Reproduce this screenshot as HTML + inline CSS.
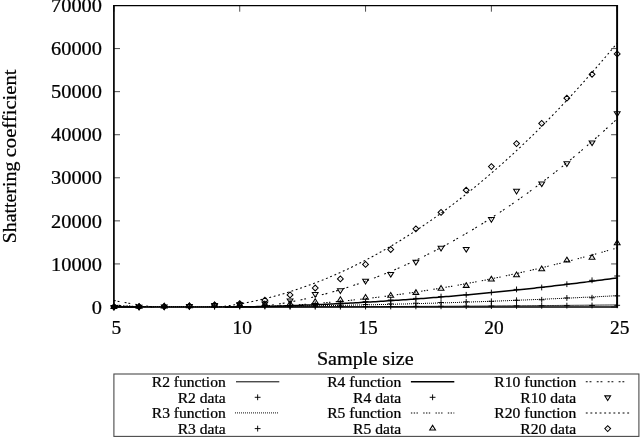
<!DOCTYPE html>
<html><head><meta charset="utf-8"><title>Shattering coefficient</title>
<style>
html,body{margin:0;padding:0;background:#fff;}
body{width:640px;height:438px;overflow:hidden;}
svg{display:block;will-change:transform;}
text{font-family:"Liberation Serif",serif;fill:#000;font-variant-ligatures:none;stroke:#000;stroke-width:0.25px;}
</style></head><body>
<svg width="640" height="438" viewBox="0 0 640 438">
<rect width="640" height="438" fill="#fff"/>
<path d="M113.90 306.94 L116.42 306.94 L118.93 306.94 L121.45 306.95 L123.97 306.95 L126.48 306.95 L129.00 306.96 L131.52 306.96 L134.03 306.97 L136.55 306.97 L139.06 306.97 L141.58 306.97 L144.10 306.98 L146.61 306.98 L149.13 306.98 L151.65 306.98 L154.16 306.99 L156.68 306.99 L159.20 306.99 L161.71 306.99 L164.23 306.99 L166.75 306.99 L169.26 307.00 L171.78 307.00 L174.30 307.00 L176.81 307.00 L179.33 307.00 L181.85 307.00 L184.36 307.00 L186.88 307.00 L189.40 307.00 L191.91 307.00 L194.43 307.00 L196.94 307.00 L199.46 307.00 L201.98 307.00 L204.49 307.00 L207.01 307.00 L209.53 307.00 L212.04 306.99 L214.56 306.99 L217.08 306.99 L219.59 306.99 L222.11 306.99 L224.63 306.99 L227.14 306.98 L229.66 306.98 L232.18 306.98 L234.69 306.98 L237.21 306.97 L239.72 306.97 L242.24 306.97 L244.76 306.97 L247.27 306.96 L249.79 306.96 L252.31 306.95 L254.82 306.95 L257.34 306.95 L259.86 306.94 L262.37 306.94 L264.89 306.94 L267.41 306.93 L269.92 306.93 L272.44 306.92 L274.96 306.92 L277.47 306.91 L279.99 306.91 L282.51 306.90 L285.02 306.90 L287.54 306.89 L290.06 306.88 L292.57 306.88 L295.09 306.87 L297.60 306.87 L300.12 306.86 L302.64 306.85 L305.15 306.85 L307.67 306.84 L310.19 306.83 L312.70 306.83 L315.22 306.82 L317.74 306.81 L320.25 306.81 L322.77 306.80 L325.29 306.79 L327.80 306.78 L330.32 306.77 L332.84 306.77 L335.35 306.76 L337.87 306.75 L340.38 306.74 L342.90 306.73 L345.42 306.72 L347.93 306.71 L350.45 306.71 L352.97 306.70 L355.48 306.69 L358.00 306.68 L360.52 306.67 L363.03 306.66 L365.55 306.65 L368.07 306.64 L370.58 306.63 L373.10 306.62 L375.62 306.61 L378.13 306.59 L380.65 306.58 L383.17 306.57 L385.68 306.56 L388.20 306.55 L390.72 306.54 L393.23 306.53 L395.75 306.52 L398.26 306.50 L400.78 306.49 L403.30 306.48 L405.81 306.47 L408.33 306.46 L410.85 306.44 L413.36 306.43 L415.88 306.42 L418.40 306.40 L420.91 306.39 L423.43 306.38 L425.95 306.36 L428.46 306.35 L430.98 306.34 L433.50 306.32 L436.01 306.31 L438.53 306.29 L441.04 306.28 L443.56 306.27 L446.08 306.25 L448.59 306.24 L451.11 306.22 L453.63 306.21 L456.14 306.19 L458.66 306.18 L461.18 306.16 L463.69 306.14 L466.21 306.13 L468.73 306.11 L471.24 306.10 L473.76 306.08 L476.28 306.06 L478.79 306.05 L481.31 306.03 L483.83 306.01 L486.34 306.00 L488.86 305.98 L491.38 305.96 L493.89 305.95 L496.41 305.93 L498.92 305.91 L501.44 305.89 L503.96 305.87 L506.47 305.86 L508.99 305.84 L511.51 305.82 L514.02 305.80 L516.54 305.78 L519.06 305.76 L521.57 305.75 L524.09 305.73 L526.61 305.71 L529.12 305.69 L531.64 305.67 L534.16 305.65 L536.67 305.63 L539.19 305.61 L541.71 305.59 L544.22 305.57 L546.74 305.55 L549.25 305.53 L551.77 305.51 L554.29 305.49 L556.80 305.47 L559.32 305.44 L561.84 305.42 L564.35 305.40 L566.87 305.38 L569.39 305.36 L571.90 305.34 L574.42 305.31 L576.94 305.29 L579.45 305.27 L581.97 305.25 L584.49 305.23 L587.00 305.20 L589.52 305.18 L592.03 305.16 L594.55 305.13 L597.07 305.11 L599.58 305.09 L602.10 305.06 L604.62 305.04 L607.13 305.02 L609.65 304.99 L612.17 304.97 L614.68 304.94 L617.20 304.92 " stroke="#000" stroke-width="0.8" fill="none"/>
<path d="M113.90 306.25 L116.42 306.27 L118.93 306.29 L121.45 306.32 L123.97 306.34 L126.48 306.36 L129.00 306.38 L131.52 306.40 L134.03 306.42 L136.55 306.44 L139.06 306.46 L141.58 306.48 L144.10 306.49 L146.61 306.51 L149.13 306.52 L151.65 306.54 L154.16 306.55 L156.68 306.56 L159.20 306.57 L161.71 306.58 L164.23 306.59 L166.75 306.60 L169.26 306.61 L171.78 306.62 L174.30 306.63 L176.81 306.63 L179.33 306.64 L181.85 306.64 L184.36 306.65 L186.88 306.65 L189.40 306.65 L191.91 306.65 L194.43 306.65 L196.94 306.65 L199.46 306.65 L201.98 306.65 L204.49 306.65 L207.01 306.65 L209.53 306.64 L212.04 306.64 L214.56 306.63 L217.08 306.63 L219.59 306.62 L222.11 306.61 L224.63 306.60 L227.14 306.59 L229.66 306.58 L232.18 306.57 L234.69 306.56 L237.21 306.55 L239.72 306.53 L242.24 306.52 L244.76 306.50 L247.27 306.49 L249.79 306.47 L252.31 306.45 L254.82 306.44 L257.34 306.42 L259.86 306.40 L262.37 306.38 L264.89 306.36 L267.41 306.33 L269.92 306.31 L272.44 306.29 L274.96 306.26 L277.47 306.24 L279.99 306.21 L282.51 306.19 L285.02 306.16 L287.54 306.13 L290.06 306.10 L292.57 306.07 L295.09 306.04 L297.60 306.01 L300.12 305.98 L302.64 305.94 L305.15 305.91 L307.67 305.88 L310.19 305.84 L312.70 305.80 L315.22 305.77 L317.74 305.73 L320.25 305.69 L322.77 305.65 L325.29 305.61 L327.80 305.57 L330.32 305.53 L332.84 305.49 L335.35 305.44 L337.87 305.40 L340.38 305.36 L342.90 305.31 L345.42 305.26 L347.93 305.22 L350.45 305.17 L352.97 305.12 L355.48 305.07 L358.00 305.02 L360.52 304.97 L363.03 304.92 L365.55 304.87 L368.07 304.81 L370.58 304.76 L373.10 304.70 L375.62 304.65 L378.13 304.59 L380.65 304.53 L383.17 304.48 L385.68 304.42 L388.20 304.36 L390.72 304.30 L393.23 304.24 L395.75 304.18 L398.26 304.11 L400.78 304.05 L403.30 303.99 L405.81 303.92 L408.33 303.85 L410.85 303.79 L413.36 303.72 L415.88 303.65 L418.40 303.58 L420.91 303.51 L423.43 303.44 L425.95 303.37 L428.46 303.30 L430.98 303.23 L433.50 303.15 L436.01 303.08 L438.53 303.00 L441.04 302.93 L443.56 302.85 L446.08 302.77 L448.59 302.70 L451.11 302.62 L453.63 302.54 L456.14 302.46 L458.66 302.38 L461.18 302.29 L463.69 302.21 L466.21 302.13 L468.73 302.04 L471.24 301.96 L473.76 301.87 L476.28 301.78 L478.79 301.70 L481.31 301.61 L483.83 301.52 L486.34 301.43 L488.86 301.34 L491.38 301.25 L493.89 301.15 L496.41 301.06 L498.92 300.97 L501.44 300.87 L503.96 300.78 L506.47 300.68 L508.99 300.58 L511.51 300.49 L514.02 300.39 L516.54 300.29 L519.06 300.19 L521.57 300.09 L524.09 299.98 L526.61 299.88 L529.12 299.78 L531.64 299.67 L534.16 299.57 L536.67 299.46 L539.19 299.36 L541.71 299.25 L544.22 299.14 L546.74 299.03 L549.25 298.92 L551.77 298.81 L554.29 298.70 L556.80 298.59 L559.32 298.48 L561.84 298.36 L564.35 298.25 L566.87 298.14 L569.39 298.02 L571.90 297.90 L574.42 297.79 L576.94 297.67 L579.45 297.55 L581.97 297.43 L584.49 297.31 L587.00 297.19 L589.52 297.07 L592.03 296.94 L594.55 296.82 L597.07 296.69 L599.58 296.57 L602.10 296.44 L604.62 296.32 L607.13 296.19 L609.65 296.06 L612.17 295.93 L614.68 295.80 L617.20 295.67 " stroke="#000" stroke-width="1.05" stroke-dasharray="1 1" stroke-dashoffset="0.9" fill="none"/>
<path d="M113.90 306.73 L116.42 306.78 L118.93 306.83 L121.45 306.88 L123.97 306.93 L126.48 306.97 L129.00 307.02 L131.52 307.06 L134.03 307.10 L136.55 307.14 L139.06 307.17 M224.63 307.19 L227.14 307.16 L229.66 307.12 L232.18 307.08 L234.69 307.04 L237.21 307.00 L239.72 306.96 L242.24 306.91 L244.76 306.86 L247.27 306.81 L249.79 306.76 L252.31 306.71 L254.82 306.65 L257.34 306.59 L259.86 306.53 L262.37 306.47 L264.89 306.41 L267.41 306.34 L269.92 306.27 L272.44 306.20 L274.96 306.13 L277.47 306.06 L279.99 305.98 L282.51 305.91 L285.02 305.83 L287.54 305.74 L290.06 305.66 L292.57 305.58 L295.09 305.49 L297.60 305.40 L300.12 305.31 L302.64 305.21 L305.15 305.12 L307.67 305.02 L310.19 304.92 L312.70 304.82 L315.22 304.72 L317.74 304.61 L320.25 304.50 L322.77 304.39 L325.29 304.28 L327.80 304.17 L330.32 304.05 L332.84 303.94 L335.35 303.82 L337.87 303.70 L340.38 303.57 L342.90 303.45 L345.42 303.32 L347.93 303.19 L350.45 303.06 L352.97 302.93 L355.48 302.79 L358.00 302.65 L360.52 302.51 L363.03 302.37 L365.55 302.23 L368.07 302.09 L370.58 301.94 L373.10 301.79 L375.62 301.64 L378.13 301.49 L380.65 301.33 L383.17 301.17 L385.68 301.01 L388.20 300.85 L390.72 300.69 L393.23 300.53 L395.75 300.36 L398.26 300.19 L400.78 300.02 L403.30 299.85 L405.81 299.67 L408.33 299.49 L410.85 299.32 L413.36 299.14 L415.88 298.95 L418.40 298.77 L420.91 298.58 L423.43 298.39 L425.95 298.20 L428.46 298.01 L430.98 297.81 L433.50 297.62 L436.01 297.42 L438.53 297.22 L441.04 297.02 L443.56 296.81 L446.08 296.60 L448.59 296.40 L451.11 296.19 L453.63 295.97 L456.14 295.76 L458.66 295.54 L461.18 295.32 L463.69 295.10 L466.21 294.88 L468.73 294.66 L471.24 294.43 L473.76 294.20 L476.28 293.97 L478.79 293.74 L481.31 293.51 L483.83 293.27 L486.34 293.03 L488.86 292.79 L491.38 292.55 L493.89 292.30 L496.41 292.06 L498.92 291.81 L501.44 291.56 L503.96 291.31 L506.47 291.05 L508.99 290.80 L511.51 290.54 L514.02 290.28 L516.54 290.02 L519.06 289.75 L521.57 289.49 L524.09 289.22 L526.61 288.95 L529.12 288.68 L531.64 288.40 L534.16 288.13 L536.67 287.85 L539.19 287.57 L541.71 287.29 L544.22 287.01 L546.74 286.72 L549.25 286.43 L551.77 286.14 L554.29 285.85 L556.80 285.56 L559.32 285.26 L561.84 284.96 L564.35 284.66 L566.87 284.36 L569.39 284.06 L571.90 283.75 L574.42 283.45 L576.94 283.14 L579.45 282.82 L581.97 282.51 L584.49 282.19 L587.00 281.88 L589.52 281.56 L592.03 281.24 L594.55 280.91 L597.07 280.59 L599.58 280.26 L602.10 279.93 L604.62 279.60 L607.13 279.27 L609.65 278.93 L612.17 278.59 L614.68 278.25 L617.20 277.91 " stroke="#000" stroke-width="1.5" fill="none"/>
<path d="M113.90 305.22 L116.42 305.37 L118.93 305.52 L121.45 305.66 L123.97 305.80 L126.48 305.94 L129.00 306.07 L131.52 306.20 L134.03 306.32 L136.55 306.44 L139.06 306.55 L141.58 306.66 L144.10 306.76 L146.61 306.87 L149.13 306.96 L151.65 307.05 L154.16 307.14 M249.79 307.17 L252.31 307.09 L254.82 307.00 L257.34 306.90 L259.86 306.80 L262.37 306.70 L264.89 306.59 L267.41 306.48 L269.92 306.36 L272.44 306.24 L274.96 306.12 L277.47 305.99 L279.99 305.86 L282.51 305.72 L285.02 305.57 L287.54 305.43 L290.06 305.27 L292.57 305.12 L295.09 304.96 L297.60 304.79 L300.12 304.62 L302.64 304.45 L305.15 304.27 L307.67 304.09 L310.19 303.90 L312.70 303.71 L315.22 303.51 L317.74 303.31 L320.25 303.11 L322.77 302.90 L325.29 302.68 L327.80 302.47 L330.32 302.24 L332.84 302.02 L335.35 301.79 L337.87 301.55 L340.38 301.31 L342.90 301.06 L345.42 300.82 L347.93 300.56 L350.45 300.30 L352.97 300.04 L355.48 299.77 L358.00 299.50 L360.52 299.23 L363.03 298.95 L365.55 298.66 L368.07 298.37 L370.58 298.08 L373.10 297.78 L375.62 297.48 L378.13 297.17 L380.65 296.86 L383.17 296.55 L385.68 296.23 L388.20 295.90 L390.72 295.57 L393.23 295.24 L395.75 294.90 L398.26 294.56 L400.78 294.22 L403.30 293.86 L405.81 293.51 L408.33 293.15 L410.85 292.79 L413.36 292.42 L415.88 292.04 L418.40 291.67 L420.91 291.28 L423.43 290.90 L425.95 290.51 L428.46 290.11 L430.98 289.71 L433.50 289.31 L436.01 288.90 L438.53 288.49 L441.04 288.07 L443.56 287.65 L446.08 287.22 L448.59 286.79 L451.11 286.36 L453.63 285.92 L456.14 285.47 L458.66 285.03 L461.18 284.57 L463.69 284.12 L466.21 283.65 L468.73 283.19 L471.24 282.72 L473.76 282.24 L476.28 281.76 L478.79 281.28 L481.31 280.79 L483.83 280.30 L486.34 279.80 L488.86 279.30 L491.38 278.80 L493.89 278.29 L496.41 277.77 L498.92 277.25 L501.44 276.73 L503.96 276.20 L506.47 275.67 L508.99 275.13 L511.51 274.59 L514.02 274.05 L516.54 273.50 L519.06 272.94 L521.57 272.38 L524.09 271.82 L526.61 271.25 L529.12 270.68 L531.64 270.10 L534.16 269.52 L536.67 268.94 L539.19 268.35 L541.71 267.75 L544.22 267.15 L546.74 266.55 L549.25 265.94 L551.77 265.33 L554.29 264.71 L556.80 264.09 L559.32 263.47 L561.84 262.84 L564.35 262.21 L566.87 261.57 L569.39 260.92 L571.90 260.28 L574.42 259.62 L576.94 258.97 L579.45 258.31 L581.97 257.64 L584.49 256.97 L587.00 256.30 L589.52 255.62 L592.03 254.94 L594.55 254.25 L597.07 253.56 L599.58 252.86 L602.10 252.16 L604.62 251.46 L607.13 250.75 L609.65 250.04 L612.17 249.32 L614.68 248.60 L617.20 247.87 " stroke="#000" stroke-width="1.05" stroke-dasharray="1.4 1.4 1.4 1.4 1.4 5.3" fill="none"/>
<path d="M113.90 300.40 L116.42 300.92 L118.93 301.42 L121.45 301.91 L123.97 302.38 L126.48 302.84 L129.00 303.29 L131.52 303.72 L134.03 304.14 L136.55 304.54 L139.06 304.93 L141.58 305.31 L144.10 305.67 L146.61 306.01 L149.13 306.34 L151.65 306.66 L154.16 306.96 M257.34 307.04 L259.86 306.74 L262.37 306.42 L264.89 306.10 L267.41 305.76 L269.92 305.40 L272.44 305.03 L274.96 304.64 L277.47 304.24 L279.99 303.83 L282.51 303.40 L285.02 302.96 L287.54 302.50 L290.06 302.03 L292.57 301.55 L295.09 301.05 L297.60 300.53 L300.12 300.00 L302.64 299.46 L305.15 298.90 L307.67 298.33 L310.19 297.75 L312.70 297.15 L315.22 296.53 L317.74 295.90 L320.25 295.26 L322.77 294.60 L325.29 293.93 L327.80 293.24 L330.32 292.54 L332.84 291.83 L335.35 291.10 L337.87 290.36 L340.38 289.60 L342.90 288.83 L345.42 288.04 L347.93 287.24 L350.45 286.43 L352.97 285.60 L355.48 284.75 L358.00 283.89 L360.52 283.02 L363.03 282.14 L365.55 281.23 L368.07 280.32 L370.58 279.39 L373.10 278.45 L375.62 277.49 L378.13 276.51 L380.65 275.53 L383.17 274.53 L385.68 273.51 L388.20 272.48 L390.72 271.44 L393.23 270.38 L395.75 269.30 L398.26 268.22 L400.78 267.12 L403.30 266.00 L405.81 264.87 L408.33 263.72 L410.85 262.57 L413.36 261.39 L415.88 260.20 L418.40 259.00 L420.91 257.79 L423.43 256.56 L425.95 255.31 L428.46 254.05 L430.98 252.78 L433.50 251.49 L436.01 250.19 L438.53 248.87 L441.04 247.54 L443.56 246.19 L446.08 244.83 L448.59 243.46 L451.11 242.07 L453.63 240.67 L456.14 239.25 L458.66 237.82 L461.18 236.38 L463.69 234.92 L466.21 233.44 L468.73 231.95 L471.24 230.45 L473.76 228.93 L476.28 227.40 L478.79 225.86 L481.31 224.30 L483.83 222.72 L486.34 221.13 L488.86 219.53 L491.38 217.91 L493.89 216.28 L496.41 214.63 L498.92 212.97 L501.44 211.30 L503.96 209.61 L506.47 207.91 L508.99 206.19 L511.51 204.46 L514.02 202.71 L516.54 200.95 L519.06 199.17 L521.57 197.38 L524.09 195.58 L526.61 193.76 L529.12 191.93 L531.64 190.08 L534.16 188.22 L536.67 186.34 L539.19 184.45 L541.71 182.55 L544.22 180.63 L546.74 178.70 L549.25 176.75 L551.77 174.79 L554.29 172.81 L556.80 170.82 L559.32 168.82 L561.84 166.80 L564.35 164.77 L566.87 162.72 L569.39 160.66 L571.90 158.58 L574.42 156.49 L576.94 154.39 L579.45 152.27 L581.97 150.14 L584.49 147.99 L587.00 145.83 L589.52 143.65 L592.03 141.46 L594.55 139.25 L597.07 137.03 L599.58 134.80 L602.10 132.55 L604.62 130.29 L607.13 128.01 L609.65 125.72 L612.17 123.42 L614.68 121.10 L617.20 118.76 " stroke="#000" stroke-width="1.05" stroke-dasharray="1.9 1.85 1.9 5.3" fill="none"/>
<path d="M113.90 304.57 L116.42 304.98 L118.93 305.37 L121.45 305.75 L123.97 306.11 L126.48 306.45 L129.00 306.78 L131.52 307.09 M219.59 306.98 L222.11 306.67 L224.63 306.34 L227.14 305.99 L229.66 305.62 L232.18 305.24 L234.69 304.84 L237.21 304.42 L239.72 303.98 L242.24 303.53 L244.76 303.06 L247.27 302.58 L249.79 302.07 L252.31 301.55 L254.82 301.01 L257.34 300.46 L259.86 299.88 L262.37 299.29 L264.89 298.68 L267.41 298.06 L269.92 297.42 L272.44 296.76 L274.96 296.08 L277.47 295.39 L279.99 294.67 L282.51 293.95 L285.02 293.20 L287.54 292.44 L290.06 291.66 L292.57 290.86 L295.09 290.04 L297.60 289.21 L300.12 288.36 L302.64 287.49 L305.15 286.61 L307.67 285.71 L310.19 284.79 L312.70 283.85 L315.22 282.90 L317.74 281.93 L320.25 280.94 L322.77 279.94 L325.29 278.91 L327.80 277.87 L330.32 276.82 L332.84 275.74 L335.35 274.65 L337.87 273.54 L340.38 272.42 L342.90 271.27 L345.42 270.11 L347.93 268.93 L350.45 267.74 L352.97 266.53 L355.48 265.30 L358.00 264.05 L360.52 262.78 L363.03 261.50 L365.55 260.20 L368.07 258.89 L370.58 257.55 L373.10 256.20 L375.62 254.83 L378.13 253.45 L380.65 252.05 L383.17 250.63 L385.68 249.19 L388.20 247.73 L390.72 246.26 L393.23 244.77 L395.75 243.27 L398.26 241.74 L400.78 240.20 L403.30 238.64 L405.81 237.07 L408.33 235.48 L410.85 233.87 L413.36 232.24 L415.88 230.59 L418.40 228.93 L420.91 227.25 L423.43 225.56 L425.95 223.84 L428.46 222.11 L430.98 220.36 L433.50 218.60 L436.01 216.82 L438.53 215.02 L441.04 213.20 L443.56 211.36 L446.08 209.51 L448.59 207.64 L451.11 205.76 L453.63 203.85 L456.14 201.93 L458.66 199.99 L461.18 198.04 L463.69 196.06 L466.21 194.07 L468.73 192.07 L471.24 190.04 L473.76 188.00 L476.28 185.94 L478.79 183.86 L481.31 181.77 L483.83 179.66 L486.34 177.53 L488.86 175.38 L491.38 173.22 L493.89 171.04 L496.41 168.84 L498.92 166.63 L501.44 164.40 L503.96 162.15 L506.47 159.88 L508.99 157.60 L511.51 155.30 L514.02 152.98 L516.54 150.64 L519.06 148.29 L521.57 145.92 L524.09 143.53 L526.61 141.13 L529.12 138.70 L531.64 136.26 L534.16 133.81 L536.67 131.33 L539.19 128.84 L541.71 126.33 L544.22 123.81 L546.74 121.26 L549.25 118.70 L551.77 116.13 L554.29 113.53 L556.80 110.92 L559.32 108.29 L561.84 105.64 L564.35 102.98 L566.87 100.30 L569.39 97.60 L571.90 94.88 L574.42 92.15 L576.94 89.40 L579.45 86.63 L581.97 83.85 L584.49 81.04 L587.00 78.22 L589.52 75.39 L592.03 72.53 L594.55 69.66 L597.07 66.77 L599.58 63.87 L602.10 60.94 L604.62 58.00 L607.13 55.05 L609.65 52.07 L612.17 49.08 L614.68 46.07 L617.20 43.04 " stroke="#000" stroke-width="1.05" stroke-dasharray="1.9 2.7" fill="none"/>
<path d="M111.00 306.97H116.80M113.90 304.07V309.87" stroke="#000" stroke-width="0.95" fill="none"/>
<path d="M111.00 306.95H116.80M113.90 304.05V309.85" stroke="#000" stroke-width="0.95" fill="none"/>
<path d="M111.00 306.92H116.80M113.90 304.02V309.82" stroke="#000" stroke-width="0.95" fill="none"/>
<path d="M113.90 303.74L116.80 308.44L111.00 308.44Z" stroke="#000" stroke-width="1.05" fill="none"/><circle cx="113.90" cy="306.99" r="0.32" fill="#222"/>
<path d="M113.90 310.11L116.80 305.41L111.00 305.41Z" stroke="#000" stroke-width="1.05" fill="none"/><circle cx="113.90" cy="306.86" r="0.32" fill="#222"/>
<path d="M111.00 306.86L113.90 303.96L116.80 306.86L113.90 309.76Z" stroke="#000" stroke-width="1.05" fill="none"/><circle cx="113.90" cy="306.86" r="0.32" fill="#222"/>
<path d="M136.16 306.94H141.97M139.06 304.04V309.84" stroke="#000" stroke-width="0.95" fill="none"/>
<path d="M136.16 306.90H141.97M139.06 304.00V309.80" stroke="#000" stroke-width="0.95" fill="none"/>
<path d="M136.16 306.84H141.97M139.06 303.94V309.74" stroke="#000" stroke-width="0.95" fill="none"/>
<path d="M139.06 303.64L141.97 308.34L136.16 308.34Z" stroke="#000" stroke-width="1.05" fill="none"/><circle cx="139.06" cy="306.89" r="0.32" fill="#222"/>
<path d="M139.06 309.98L141.97 305.28L136.16 305.28Z" stroke="#000" stroke-width="1.05" fill="none"/><circle cx="139.06" cy="306.73" r="0.32" fill="#222"/>
<path d="M136.16 306.73L139.06 303.83L141.97 306.73L139.06 309.63Z" stroke="#000" stroke-width="1.05" fill="none"/><circle cx="139.06" cy="306.73" r="0.32" fill="#222"/>
<path d="M161.33 306.85H167.13M164.23 303.95V309.75" stroke="#000" stroke-width="0.95" fill="none"/>
<path d="M161.33 306.70H167.13M164.23 303.80V309.60" stroke="#000" stroke-width="0.95" fill="none"/>
<path d="M161.33 306.58H167.13M164.23 303.68V309.48" stroke="#000" stroke-width="0.95" fill="none"/>
<path d="M164.23 303.36L167.13 308.06L161.33 308.06Z" stroke="#000" stroke-width="1.05" fill="none"/><circle cx="164.23" cy="306.61" r="0.32" fill="#222"/>
<path d="M164.23 309.70L167.13 305.00L161.33 305.00Z" stroke="#000" stroke-width="1.05" fill="none"/><circle cx="164.23" cy="306.45" r="0.32" fill="#222"/>
<path d="M161.33 306.45L164.23 303.55L167.13 306.45L164.23 309.35Z" stroke="#000" stroke-width="1.05" fill="none"/><circle cx="164.23" cy="306.45" r="0.32" fill="#222"/>
<path d="M186.50 306.80H192.30M189.40 303.90V309.70" stroke="#000" stroke-width="0.95" fill="none"/>
<path d="M186.50 306.55H192.30M189.40 303.65V309.45" stroke="#000" stroke-width="0.95" fill="none"/>
<path d="M186.50 306.30H192.30M189.40 303.40V309.20" stroke="#000" stroke-width="0.95" fill="none"/>
<path d="M189.40 302.96L192.30 307.66L186.50 307.66Z" stroke="#000" stroke-width="1.05" fill="none"/><circle cx="189.40" cy="306.21" r="0.32" fill="#222"/>
<path d="M189.40 309.20L192.30 304.50L186.50 304.50Z" stroke="#000" stroke-width="1.05" fill="none"/><circle cx="189.40" cy="305.95" r="0.32" fill="#222"/>
<path d="M186.50 305.90L189.40 303.00L192.30 305.90L189.40 308.80Z" stroke="#000" stroke-width="1.05" fill="none"/><circle cx="189.40" cy="305.90" r="0.32" fill="#222"/>
<path d="M211.66 306.70H217.46M214.56 303.80V309.60" stroke="#000" stroke-width="0.95" fill="none"/>
<path d="M211.66 306.30H217.46M214.56 303.40V309.20" stroke="#000" stroke-width="0.95" fill="none"/>
<path d="M211.66 305.80H217.46M214.56 302.90V308.70" stroke="#000" stroke-width="0.95" fill="none"/>
<path d="M214.56 302.26L217.46 306.96L211.66 306.96Z" stroke="#000" stroke-width="1.05" fill="none"/><circle cx="214.56" cy="305.51" r="0.32" fill="#222"/>
<path d="M214.56 308.25L217.46 303.55L211.66 303.55Z" stroke="#000" stroke-width="1.05" fill="none"/><circle cx="214.56" cy="305.00" r="0.32" fill="#222"/>
<path d="M211.66 304.85L214.56 301.95L217.46 304.85L214.56 307.75Z" stroke="#000" stroke-width="1.05" fill="none"/><circle cx="214.56" cy="304.85" r="0.32" fill="#222"/>
<path d="M236.82 306.60H242.62M239.72 303.70V309.50" stroke="#000" stroke-width="0.95" fill="none"/>
<path d="M236.82 306.10H242.62M239.72 303.20V309.00" stroke="#000" stroke-width="0.95" fill="none"/>
<path d="M236.82 305.50H242.62M239.72 302.60V308.40" stroke="#000" stroke-width="0.95" fill="none"/>
<path d="M239.72 301.86L242.62 306.56L236.82 306.56Z" stroke="#000" stroke-width="1.05" fill="none"/><circle cx="239.72" cy="305.11" r="0.32" fill="#222"/>
<path d="M239.72 307.55L242.62 302.85L236.82 302.85Z" stroke="#000" stroke-width="1.05" fill="none"/><circle cx="239.72" cy="304.30" r="0.32" fill="#222"/>
<path d="M236.82 303.60L239.72 300.70L242.62 303.60L239.72 306.50Z" stroke="#000" stroke-width="1.05" fill="none"/><circle cx="239.72" cy="303.60" r="0.32" fill="#222"/>
<path d="M261.99 306.55H267.79M264.89 303.65V309.45" stroke="#000" stroke-width="0.95" fill="none"/>
<path d="M261.99 305.95H267.79M264.89 303.05V308.85" stroke="#000" stroke-width="0.95" fill="none"/>
<path d="M261.99 305.20H267.79M264.89 302.30V308.10" stroke="#000" stroke-width="0.95" fill="none"/>
<path d="M264.89 301.26L267.79 305.96L261.99 305.96Z" stroke="#000" stroke-width="1.05" fill="none"/><circle cx="264.89" cy="304.51" r="0.32" fill="#222"/>
<path d="M264.89 306.75L267.79 302.05L261.99 302.05Z" stroke="#000" stroke-width="1.05" fill="none"/><circle cx="264.89" cy="303.50" r="0.32" fill="#222"/>
<path d="M261.99 300.20L264.89 297.30L267.79 300.20L264.89 303.10Z" stroke="#000" stroke-width="1.05" fill="none"/><circle cx="264.89" cy="300.20" r="0.32" fill="#222"/>
<path d="M287.16 306.79H292.95M290.06 303.89V309.69" stroke="#000" stroke-width="0.95" fill="none"/>
<path d="M287.16 306.00H292.95M290.06 303.10V308.90" stroke="#000" stroke-width="0.95" fill="none"/>
<path d="M287.16 305.20H292.95M290.06 302.30V308.10" stroke="#000" stroke-width="0.95" fill="none"/>
<path d="M290.06 300.70L292.95 305.40L287.16 305.40Z" stroke="#000" stroke-width="1.05" fill="none"/><circle cx="290.06" cy="303.95" r="0.32" fill="#222"/>
<path d="M290.06 303.62L292.95 298.92L287.16 298.92Z" stroke="#000" stroke-width="1.05" fill="none"/><circle cx="290.06" cy="300.37" r="0.32" fill="#222"/>
<path d="M287.16 294.90L290.06 292.00L292.95 294.90L290.06 297.80Z" stroke="#000" stroke-width="1.05" fill="none"/><circle cx="290.06" cy="294.90" r="0.32" fill="#222"/>
<path d="M312.32 306.73H318.12M315.22 303.83V309.63" stroke="#000" stroke-width="0.95" fill="none"/>
<path d="M312.32 305.60H318.12M315.22 302.70V308.50" stroke="#000" stroke-width="0.95" fill="none"/>
<path d="M312.32 304.20H318.12M315.22 301.30V307.10" stroke="#000" stroke-width="0.95" fill="none"/>
<path d="M315.22 298.80L318.12 303.50L312.32 303.50Z" stroke="#000" stroke-width="1.05" fill="none"/><circle cx="315.22" cy="302.05" r="0.32" fill="#222"/>
<path d="M315.22 297.22L318.12 292.52L312.32 292.52Z" stroke="#000" stroke-width="1.05" fill="none"/><circle cx="315.22" cy="293.97" r="0.32" fill="#222"/>
<path d="M312.32 288.00L315.22 285.10L318.12 288.00L315.22 290.90Z" stroke="#000" stroke-width="1.05" fill="none"/><circle cx="315.22" cy="288.00" r="0.32" fill="#222"/>
<path d="M337.49 306.66H343.28M340.38 303.76V309.56" stroke="#000" stroke-width="0.95" fill="none"/>
<path d="M337.49 305.10H343.28M340.38 302.20V308.00" stroke="#000" stroke-width="0.95" fill="none"/>
<path d="M337.49 303.00H343.28M340.38 300.10V305.90" stroke="#000" stroke-width="0.95" fill="none"/>
<path d="M340.38 296.80L343.28 301.50L337.49 301.50Z" stroke="#000" stroke-width="1.05" fill="none"/><circle cx="340.38" cy="300.05" r="0.32" fill="#222"/>
<path d="M340.38 293.52L343.28 288.82L337.49 288.82Z" stroke="#000" stroke-width="1.05" fill="none"/><circle cx="340.38" cy="290.27" r="0.32" fill="#222"/>
<path d="M337.49 278.90L340.38 276.00L343.28 278.90L340.38 281.80Z" stroke="#000" stroke-width="1.05" fill="none"/><circle cx="340.38" cy="278.90" r="0.32" fill="#222"/>
<path d="M362.65 306.58H368.45M365.55 303.68V309.48" stroke="#000" stroke-width="0.95" fill="none"/>
<path d="M362.65 304.50H368.45M365.55 301.60V307.40" stroke="#000" stroke-width="0.95" fill="none"/>
<path d="M362.65 301.60H368.45M365.55 298.70V304.50" stroke="#000" stroke-width="0.95" fill="none"/>
<path d="M365.55 294.50L368.45 299.20L362.65 299.20Z" stroke="#000" stroke-width="1.05" fill="none"/><circle cx="365.55" cy="297.75" r="0.32" fill="#222"/>
<path d="M365.55 284.02L368.45 279.32L362.65 279.32Z" stroke="#000" stroke-width="1.05" fill="none"/><circle cx="365.55" cy="280.77" r="0.32" fill="#222"/>
<path d="M362.65 264.40L365.55 261.50L368.45 264.40L365.55 267.30Z" stroke="#000" stroke-width="1.05" fill="none"/><circle cx="365.55" cy="264.40" r="0.32" fill="#222"/>
<path d="M387.82 306.49H393.62M390.72 303.59V309.39" stroke="#000" stroke-width="0.95" fill="none"/>
<path d="M387.82 303.90H393.62M390.72 301.00V306.80" stroke="#000" stroke-width="0.95" fill="none"/>
<path d="M387.82 300.00H393.62M390.72 297.10V302.90" stroke="#000" stroke-width="0.95" fill="none"/>
<path d="M390.72 292.45L393.62 297.15L387.82 297.15Z" stroke="#000" stroke-width="1.05" fill="none"/><circle cx="390.72" cy="295.70" r="0.32" fill="#222"/>
<path d="M390.72 277.12L393.62 272.42L387.82 272.42Z" stroke="#000" stroke-width="1.05" fill="none"/><circle cx="390.72" cy="273.87" r="0.32" fill="#222"/>
<path d="M387.82 249.50L390.72 246.60L393.62 249.50L390.72 252.40Z" stroke="#000" stroke-width="1.05" fill="none"/><circle cx="390.72" cy="249.50" r="0.32" fill="#222"/>
<path d="M412.98 306.40H418.78M415.88 303.50V309.30" stroke="#000" stroke-width="0.95" fill="none"/>
<path d="M412.98 303.20H418.78M415.88 300.30V306.10" stroke="#000" stroke-width="0.95" fill="none"/>
<path d="M412.98 298.40H418.78M415.88 295.50V301.30" stroke="#000" stroke-width="0.95" fill="none"/>
<path d="M415.88 289.65L418.78 294.35L412.98 294.35Z" stroke="#000" stroke-width="1.05" fill="none"/><circle cx="415.88" cy="292.90" r="0.32" fill="#222"/>
<path d="M415.88 265.02L418.78 260.32L412.98 260.32Z" stroke="#000" stroke-width="1.05" fill="none"/><circle cx="415.88" cy="261.77" r="0.32" fill="#222"/>
<path d="M412.98 228.80L415.88 225.90L418.78 228.80L415.88 231.70Z" stroke="#000" stroke-width="1.05" fill="none"/><circle cx="415.88" cy="228.80" r="0.32" fill="#222"/>
<path d="M438.14 306.29H443.94M441.04 303.39V309.19" stroke="#000" stroke-width="0.95" fill="none"/>
<path d="M438.14 302.50H443.94M441.04 299.60V305.40" stroke="#000" stroke-width="0.95" fill="none"/>
<path d="M438.14 296.60H443.94M441.04 293.70V299.50" stroke="#000" stroke-width="0.95" fill="none"/>
<path d="M441.04 285.45L443.94 290.15L438.14 290.15Z" stroke="#000" stroke-width="1.05" fill="none"/><circle cx="441.04" cy="288.70" r="0.32" fill="#222"/>
<path d="M441.04 251.02L443.94 246.32L438.14 246.32Z" stroke="#000" stroke-width="1.05" fill="none"/><circle cx="441.04" cy="247.77" r="0.32" fill="#222"/>
<path d="M438.14 212.40L441.04 209.50L443.94 212.40L441.04 215.30Z" stroke="#000" stroke-width="1.05" fill="none"/><circle cx="441.04" cy="212.40" r="0.32" fill="#222"/>
<path d="M463.31 306.18H469.11M466.21 303.28V309.08" stroke="#000" stroke-width="0.95" fill="none"/>
<path d="M463.31 301.80H469.11M466.21 298.90V304.70" stroke="#000" stroke-width="0.95" fill="none"/>
<path d="M463.31 294.80H469.11M466.21 291.90V297.70" stroke="#000" stroke-width="0.95" fill="none"/>
<path d="M466.21 282.65L469.11 287.35L463.31 287.35Z" stroke="#000" stroke-width="1.05" fill="none"/><circle cx="466.21" cy="285.90" r="0.32" fill="#222"/>
<path d="M466.21 252.12L469.11 247.42L463.31 247.42Z" stroke="#000" stroke-width="1.05" fill="none"/><circle cx="466.21" cy="248.87" r="0.32" fill="#222"/>
<path d="M463.31 190.20L466.21 187.30L469.11 190.20L466.21 193.10Z" stroke="#000" stroke-width="1.05" fill="none"/><circle cx="466.21" cy="190.20" r="0.32" fill="#222"/>
<path d="M488.48 306.06H494.27M491.38 303.16V308.95" stroke="#000" stroke-width="0.95" fill="none"/>
<path d="M488.48 301.30H494.27M491.38 298.40V304.20" stroke="#000" stroke-width="0.95" fill="none"/>
<path d="M488.48 292.50H494.27M491.38 289.60V295.40" stroke="#000" stroke-width="0.95" fill="none"/>
<path d="M491.38 276.35L494.27 281.05L488.48 281.05Z" stroke="#000" stroke-width="1.05" fill="none"/><circle cx="491.38" cy="279.60" r="0.32" fill="#222"/>
<path d="M491.38 222.22L494.27 217.52L488.48 217.52Z" stroke="#000" stroke-width="1.05" fill="none"/><circle cx="491.38" cy="218.97" r="0.32" fill="#222"/>
<path d="M488.48 166.60L491.38 163.70L494.27 166.60L491.38 169.50Z" stroke="#000" stroke-width="1.05" fill="none"/><circle cx="491.38" cy="166.60" r="0.32" fill="#222"/>
<path d="M513.64 305.92H519.44M516.54 303.02V308.82" stroke="#000" stroke-width="0.95" fill="none"/>
<path d="M513.64 300.25H519.44M516.54 297.35V303.15" stroke="#000" stroke-width="0.95" fill="none"/>
<path d="M513.64 289.40H519.44M516.54 286.50V292.30" stroke="#000" stroke-width="0.95" fill="none"/>
<path d="M516.54 272.05L519.44 276.75L513.64 276.75Z" stroke="#000" stroke-width="1.05" fill="none"/><circle cx="516.54" cy="275.30" r="0.32" fill="#222"/>
<path d="M516.54 193.92L519.44 189.22L513.64 189.22Z" stroke="#000" stroke-width="1.05" fill="none"/><circle cx="516.54" cy="190.67" r="0.32" fill="#222"/>
<path d="M513.64 143.60L516.54 140.70L519.44 143.60L516.54 146.50Z" stroke="#000" stroke-width="1.05" fill="none"/><circle cx="516.54" cy="143.60" r="0.32" fill="#222"/>
<path d="M538.81 305.79H544.61M541.71 302.89V308.69" stroke="#000" stroke-width="0.95" fill="none"/>
<path d="M538.81 299.80H544.61M541.71 296.90V302.70" stroke="#000" stroke-width="0.95" fill="none"/>
<path d="M538.81 287.50H544.61M541.71 284.60V290.40" stroke="#000" stroke-width="0.95" fill="none"/>
<path d="M541.71 266.05L544.61 270.75L538.81 270.75Z" stroke="#000" stroke-width="1.05" fill="none"/><circle cx="541.71" cy="269.30" r="0.32" fill="#222"/>
<path d="M541.71 186.62L544.61 181.92L538.81 181.92Z" stroke="#000" stroke-width="1.05" fill="none"/><circle cx="541.71" cy="183.37" r="0.32" fill="#222"/>
<path d="M538.81 123.40L541.71 120.50L544.61 123.40L541.71 126.30Z" stroke="#000" stroke-width="1.05" fill="none"/><circle cx="541.71" cy="123.40" r="0.32" fill="#222"/>
<path d="M563.97 305.64H569.77M566.87 302.74V308.54" stroke="#000" stroke-width="0.95" fill="none"/>
<path d="M563.97 297.95H569.77M566.87 295.05V300.85" stroke="#000" stroke-width="0.95" fill="none"/>
<path d="M563.97 284.20H569.77M566.87 281.30V287.10" stroke="#000" stroke-width="0.95" fill="none"/>
<path d="M566.87 257.15L569.77 261.85L563.97 261.85Z" stroke="#000" stroke-width="1.05" fill="none"/><circle cx="566.87" cy="260.40" r="0.32" fill="#222"/>
<path d="M566.87 166.52L569.77 161.82L563.97 161.82Z" stroke="#000" stroke-width="1.05" fill="none"/><circle cx="566.87" cy="163.27" r="0.32" fill="#222"/>
<path d="M563.97 98.20L566.87 95.30L569.77 98.20L566.87 101.10Z" stroke="#000" stroke-width="1.05" fill="none"/><circle cx="566.87" cy="98.20" r="0.32" fill="#222"/>
<path d="M589.13 305.48H594.93M592.03 302.58V308.38" stroke="#000" stroke-width="0.95" fill="none"/>
<path d="M589.13 297.75H594.93M592.03 294.85V300.65" stroke="#000" stroke-width="0.95" fill="none"/>
<path d="M589.13 280.30H594.93M592.03 277.40V283.20" stroke="#000" stroke-width="0.95" fill="none"/>
<path d="M592.03 254.55L594.93 259.25L589.13 259.25Z" stroke="#000" stroke-width="1.05" fill="none"/><circle cx="592.03" cy="257.80" r="0.32" fill="#222"/>
<path d="M592.03 145.62L594.93 140.92L589.13 140.92Z" stroke="#000" stroke-width="1.05" fill="none"/><circle cx="592.03" cy="142.37" r="0.32" fill="#222"/>
<path d="M589.13 74.30L592.03 71.40L594.93 74.30L592.03 77.20Z" stroke="#000" stroke-width="1.05" fill="none"/><circle cx="592.03" cy="74.30" r="0.32" fill="#222"/>
<path d="M614.30 305.32H620.10M617.20 302.42V308.22" stroke="#000" stroke-width="0.95" fill="none"/>
<path d="M614.30 295.90H620.10M617.20 293.00V298.80" stroke="#000" stroke-width="0.95" fill="none"/>
<path d="M614.30 276.00H620.10M617.20 273.10V278.90" stroke="#000" stroke-width="0.95" fill="none"/>
<path d="M617.20 239.95L620.10 244.65L614.30 244.65Z" stroke="#000" stroke-width="1.05" fill="none"/><circle cx="617.20" cy="243.20" r="0.32" fill="#222"/>
<path d="M617.20 116.42L620.10 111.72L614.30 111.72Z" stroke="#000" stroke-width="1.05" fill="none"/><circle cx="617.20" cy="113.17" r="0.32" fill="#222"/>
<path d="M614.30 53.90L617.20 51.00L620.10 53.90L617.20 56.80Z" stroke="#000" stroke-width="1.05" fill="none"/><circle cx="617.20" cy="53.90" r="0.32" fill="#222"/>
<path d="M113.90 307.0v-6.1M113.90 5.6v6.1M239.72 307.0v-6.1M239.72 5.6v6.1M365.55 307.0v-6.1M365.55 5.6v6.1M491.38 307.0v-6.1M491.38 5.6v6.1M617.20 307.0v-6.1M617.20 5.6v6.1M113.9 307.00h6.1M617.20 307.00h-6.1M113.9 263.93h6.1M617.20 263.93h-6.1M113.9 220.86h6.1M617.20 220.86h-6.1M113.9 177.79h6.1M617.20 177.79h-6.1M113.9 134.72h6.1M617.20 134.72h-6.1M113.9 91.65h6.1M617.20 91.65h-6.1M113.9 48.58h6.1M617.20 48.58h-6.1M113.9 5.51h6.1M617.20 5.51h-6.1" stroke="#000" stroke-width="0.7" fill="none"/>
<path d="M113.05 5.6H618.05M113.05 307.0H618.05" stroke="#000" stroke-width="1.4" fill="none"/>
<path d="M113.9 5.6V307.0" stroke="#000" stroke-width="1.7" fill="none"/>
<path d="M617.10 5.6V307.0" stroke="#000" stroke-width="1.95" fill="none"/>
<rect x="113.9" y="374.0" width="525.0" height="62.39999999999998" stroke="#4a4a4a" stroke-width="1.1" fill="none"/>
<path d="M236.0 381.8H279.3" fill="none" stroke="#000" stroke-width="1"/>
<path d="M235 412.9H278.5" fill="none" stroke="#000" stroke-width="0.95" stroke-dasharray="1 1"/>
<path d="M410.9 381.8H454.3" fill="none" stroke="#000" stroke-width="1.5"/>
<path d="M410.9 412.9H454.3" fill="none" stroke="#000" stroke-width="1.05" stroke-dasharray="1.4 1.4 1.4 1.4 1.4 5.3"/>
<path d="M585.8 381.8H629.6" fill="none" stroke="#000" stroke-width="1.05" stroke-dasharray="1.9 1.85 1.9 5.3"/>
<path d="M585.8 412.9H629.6" fill="none" stroke="#000" stroke-width="1.05" stroke-dasharray="1.9 2.7"/>
<path d="M254.75 397.30H260.55M257.65 394.40V400.20" stroke="#000" stroke-width="0.95" fill="none"/>
<path d="M254.75 428.60H260.55M257.65 425.70V431.50" stroke="#000" stroke-width="0.95" fill="none"/>
<path d="M429.70 397.30H435.50M432.60 394.40V400.20" stroke="#000" stroke-width="0.95" fill="none"/>
<path d="M432.60 425.35L435.50 430.05L429.70 430.05Z" stroke="#000" stroke-width="1.05" fill="none"/><circle cx="432.60" cy="428.60" r="0.32" fill="#222"/>
<path d="M607.70 400.55L610.60 395.85L604.80 395.85Z" stroke="#000" stroke-width="1.05" fill="none"/><circle cx="607.70" cy="397.30" r="0.32" fill="#222"/>
<path d="M604.80 428.60L607.70 425.70L610.60 428.60L607.70 431.50Z" stroke="#000" stroke-width="1.05" fill="none"/><circle cx="607.70" cy="428.60" r="0.32" fill="#222"/>
<text transform="translate(102.0,313.65) scale(1.02,0.97)" font-size="20" text-anchor="end">0</text>
<text transform="translate(102.0,270.58) scale(1.02,0.97)" font-size="20" text-anchor="end">10000</text>
<text transform="translate(102.0,227.51) scale(1.02,0.97)" font-size="20" text-anchor="end">20000</text>
<text transform="translate(102.0,184.44) scale(1.02,0.97)" font-size="20" text-anchor="end">30000</text>
<text transform="translate(102.0,141.37) scale(1.02,0.97)" font-size="20" text-anchor="end">40000</text>
<text transform="translate(102.0,98.3) scale(1.02,0.97)" font-size="20" text-anchor="end">50000</text>
<text transform="translate(102.0,55.23) scale(1.02,0.97)" font-size="20" text-anchor="end">60000</text>
<text transform="translate(102.0,12.16) scale(1.02,0.97)" font-size="20" text-anchor="end">70000</text>
<text transform="translate(116.4,334.3) scale(0.97,0.97)" font-size="20" text-anchor="middle">5</text>
<text transform="translate(242.22,334.3) scale(0.97,0.97)" font-size="20" text-anchor="middle">10</text>
<text transform="translate(368.05,334.3) scale(0.97,0.97)" font-size="20" text-anchor="middle">15</text>
<text transform="translate(493.88,334.3) scale(0.97,0.97)" font-size="20" text-anchor="middle">20</text>
<text transform="translate(619.7,334.3) scale(0.97,0.97)" font-size="20" text-anchor="middle">25</text>
<text transform="translate(365.3,365.2) scale(1.008,0.97)" font-size="20" text-anchor="middle">Sample size</text>
<text transform="translate(15.9,243.2) rotate(-90) scale(0.992,0.97)" font-size="20" text-anchor="start">Shattering</text>
<text transform="translate(15.9,69.5) rotate(-90) scale(1.032,0.97)" font-size="20" text-anchor="end">coefficient</text>
<text transform="translate(225.8,387.3) scale(1.04,0.955)" font-size="15" text-anchor="end">R2 function</text>
<text transform="translate(225.8,402.5) scale(1.04,0.955)" font-size="15" text-anchor="end">R2 data</text>
<text transform="translate(225.8,417.9) scale(1.04,0.955)" font-size="15" text-anchor="end">R3 function</text>
<text transform="translate(225.8,433.5) scale(1.04,0.955)" font-size="15" text-anchor="end">R3 data</text>
<text transform="translate(401.2,387.3) scale(1.04,0.955)" font-size="15" text-anchor="end">R4 function</text>
<text transform="translate(401.2,402.5) scale(1.04,0.955)" font-size="15" text-anchor="end">R4 data</text>
<text transform="translate(401.2,417.9) scale(1.04,0.955)" font-size="15" text-anchor="end">R5 function</text>
<text transform="translate(401.2,433.5) scale(1.04,0.955)" font-size="15" text-anchor="end">R5 data</text>
<text transform="translate(576.2,387.3) scale(1.04,0.955)" font-size="15" text-anchor="end">R10 function</text>
<text transform="translate(576.2,402.5) scale(1.04,0.955)" font-size="15" text-anchor="end">R10 data</text>
<text transform="translate(576.2,417.9) scale(1.04,0.955)" font-size="15" text-anchor="end">R20 function</text>
<text transform="translate(576.2,433.5) scale(1.04,0.955)" font-size="15" text-anchor="end">R20 data</text>
</svg>
</body></html>
